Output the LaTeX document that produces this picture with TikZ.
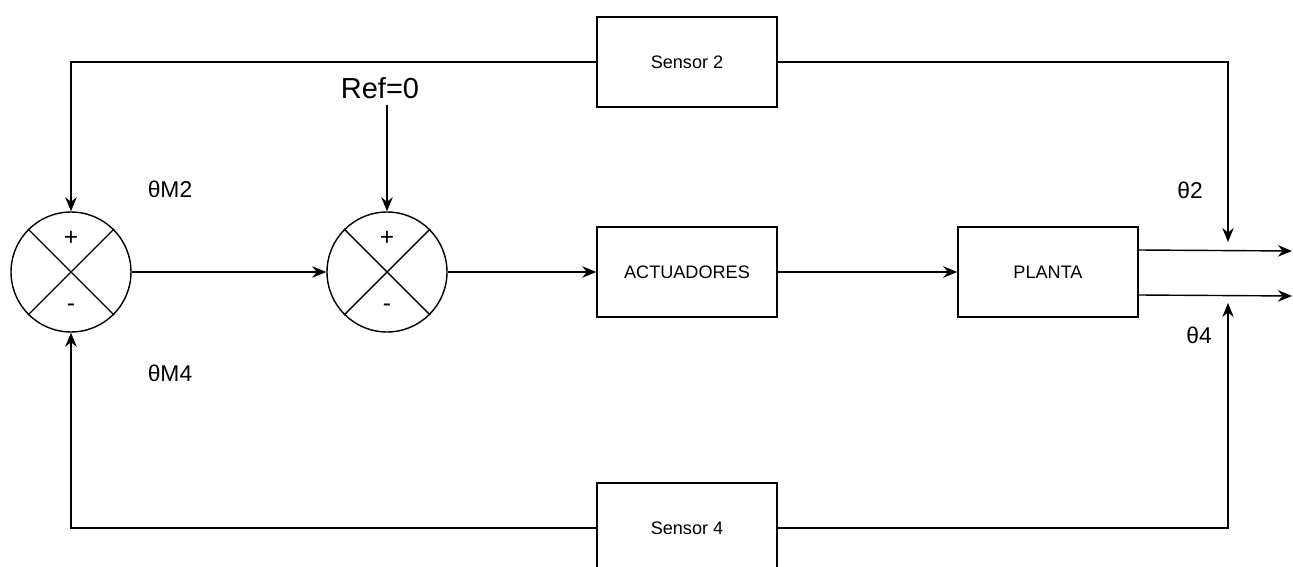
\documentclass[tikz,border=0pt]{standalone}
\usepackage{fontspec}
\setmainfont{Liberation Sans}
\usetikzlibrary{arrows.meta,positioning}

\begin{document}
\begin{tikzpicture}[x=0.02cm,y=-0.02cm,line width=0.8pt,
      >={Stealth[length=8pt,width=6.5pt]},
      bloque/.style={draw,minimum width=3.6cm,minimum height=1.8cm,
        font=\fontsize{10.3}{12}\selectfont},
      sumador/.style={draw,circle,minimum size=2.4cm,inner sep=0pt},
      signo/.style={font=\fontsize{14}{16}\selectfont},
      etiqueta/.style={font=\fontsize{13}{15}\selectfont}]
  \useasboundingbox (0,0) rectangle (1293,567);
  % bloques
  \node[bloque] (sensorA) at (687,62) {Sensor 2};
  \node[bloque] (sensorB) at (687,528) {Sensor 4};
  \node[bloque] (act) at (687,272) {ACTUADORES};
  \node[bloque] (planta) at (1048,272) {PLANTA};
  % sumadores
  \node[sumador] (sumA) at (71,272) {};
  \node[sumador] (sumB) at (387,272) {};
  \foreach \s in {sumA,sumB}{
    \draw (\s.45)--(\s.225) (\s.135)--(\s.315);
    \node[signo] (\s mas) at ([yshift=0.68cm]\s.center) {+};
    \node[signo] (\s menos) at ([yshift=-0.72cm]\s.center) {-};
  }
  \node[font=\fontsize{16.5}{18}\selectfont] (ref) at (380,88) {Ref=0};
  % conexiones
  \draw[->] (sumB.north|-ref.south)--(sumB.north);
  \draw[->] (sumA)--(sumB);
  \draw[->] (sumB)--(act);
  \draw[->] (act)--(planta);
  \coordinate (sal2) at (1292,251);
  \coordinate (sal4) at (1292,296);
  \draw[->] (planta.east|-0,250)--(sal2);
  \draw[->] (planta.east|-0,295)--(sal4);
  % realimentacion
  \coordinate (fin2) at (1228,242);
  \coordinate (fin4) at (1228,303);
  \draw[->] (sensorA.west)-|(sumA.north);
  \draw[->] (sensorB.west)-|(sumA.south);
  \draw[->] (sensorA.east)-|(fin2);
  \draw[->] (sensorB.east)-|(fin4);
  % etiquetas
  \node[etiqueta] (tM2) at (170,189) {θM2};
  \node[etiqueta] (tM4) at (170,373) {θM4};
  \node[etiqueta] (t2) at (1190,190) {θ2};
  \node[etiqueta] (t4) at (1199,335) {θ4};
\end{tikzpicture}
\end{document}
